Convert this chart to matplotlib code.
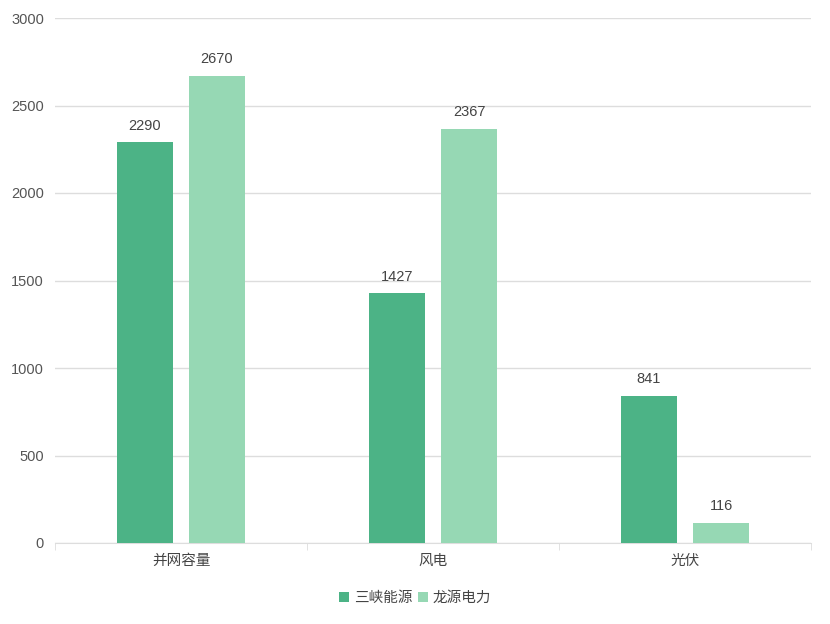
import matplotlib
matplotlib.use('Agg')
import matplotlib.pyplot as plt
import numpy as np

plt.rcParams['font.family'] = ['Liberation Sans', 'Noto Sans CJK SC', 'DejaVu Sans']

categories = ['并网容量', '风电', '光伏']
series_names = ['三峡能源', '龙源电力']
sanxia = [2290, 1427, 841]
longyuan = [2670, 2367, 116]
colors = ['#4cb386', '#96d8b4']
yticks = [0, 500, 1000, 1500, 2000, 2500, 3000]

fig = plt.figure(figsize=(8.3, 6.24), dpi=100)
ax = fig.add_axes([55 / 830, 81 / 624, 756 / 830, 525 / 624])

x = np.arange(len(categories))
width = 0.222
offset = 0.143
for vals, name, col, sign in [(sanxia, series_names[0], colors[0], -1),
                              (longyuan, series_names[1], colors[1], 1)]:
    bars = ax.bar(x + sign * offset, vals, width, color=col, label=name, zorder=3)
    for b, v in zip(bars, vals):
        ax.text(b.get_x() + b.get_width() / 2, v + 55, str(v),
                ha='center', va='bottom', fontsize=10.5, color='#444444')

ax.set_xlim(-0.5, len(categories) - 0.5)
ax.set_ylim(0, 3000)
ax.set_yticks(yticks)
ax.set_yticklabels([str(t) for t in yticks], fontsize=10.5, color='#555555')
ax.grid(axis='y', color='#dddddd', linewidth=1, zorder=0)

# category labels centred in bands, ticks at band edges
ax.set_xticks(x)
ax.set_xticklabels(categories, fontsize=10.5, color='#444444')
ax.tick_params(axis='x', length=0, pad=8)
ax.set_xticks(np.arange(len(categories) + 1) - 0.5, minor=True)
ax.tick_params(axis='x', which='minor', length=5, color='#dddddd')
ax.tick_params(axis='y', length=0, pad=8)

for s in ['top', 'right', 'left']:
    ax.spines[s].set_visible(False)
ax.spines['bottom'].set_color('#dddddd')

fig.legend(loc='center', bbox_to_anchor=(0.5, (624 - 598) / 624), ncol=2,
           frameon=False, fontsize=10.5, handlelength=0.7, handleheight=0.7,
           handletextpad=0.3, columnspacing=0.4, labelcolor='#444444')

fig.savefig('out.png', dpi=100)
